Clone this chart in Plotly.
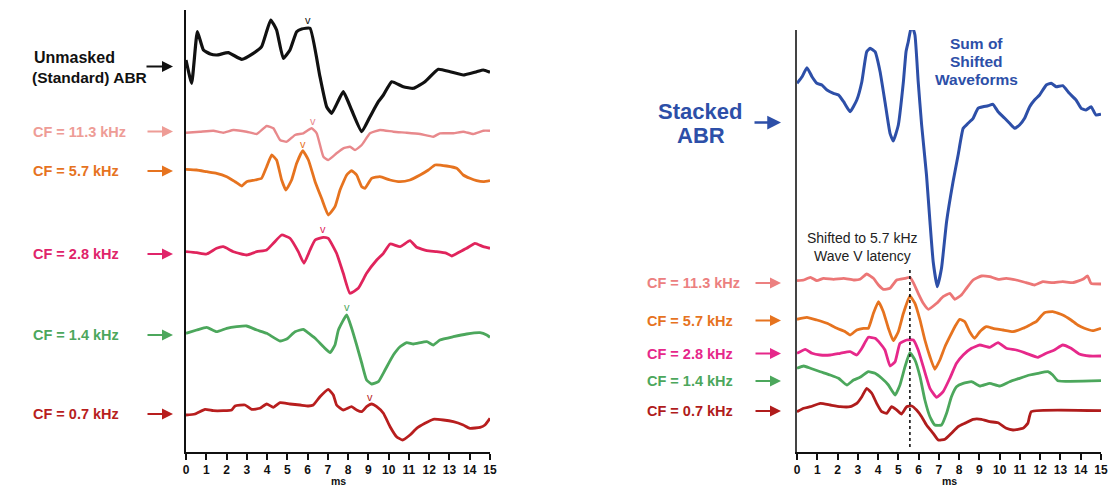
import numpy as np
import plotly.graph_objects as go

W, H = 1119, 488

# ---------------- DATA (time in ms, amplitude in arbitrary units) ----------------
# Left panel: unmasked (standard) ABR and derived-band responses
t_std = [0.0, 0.28, 0.56, 0.86, 1.2, 1.51, 2.09, 2.75, 3.32, 3.73, 4.18, 4.47, 4.80, 5.13, 5.46, 5.71, 6.12,
         6.61, 6.94, 7.19, 7.76, 8.17, 8.67, 9.08, 9.49, 9.74, 10.15, 10.72, 11.22, 11.79, 12.45, 13.03,
         13.68, 14.34, 14.67, 15.0]
a_std = [8, -15.3, 36.3, 18, 14, 13, 15.3, 8.7, 14.7, 21.3, 48, 38, 9.7, 18, 36.3, 39, 39.7,
         -8.7, -38.7, -45.3, -23.7, -42, -63.7, -48.7, -33.7, -27, -13.7, -18.7, -20.3, -13.7, -1.3, -3.7,
         -7, -3.7, -2, -4.3]

t_l113 = [0.0, 0.69, 1.35, 1.84, 2.34, 2.99, 3.49, 3.98, 4.31, 4.64, 4.97, 5.38, 5.79, 6.20, 6.45, 6.78,
          7.02, 7.43, 7.76, 8.09, 8.34, 8.67, 9.08, 9.57, 10.23, 10.89, 11.55, 12.20, 12.53, 13.19, 13.68,
          14.18, 14.67, 15.0]
a_l113 = [-0.7, 0.3, 1.3, -0.7, 2, 0.3, -2, 6, 3.7, -8, -9.7, -3, -1.3, 3.7, -1.3, -24.7,
          -28, -21.3, -16.3, -14.7, -18, -13, -1.3, 2, 0.3, -0.7, -2, -4.7, -1.3, -1.3, 0.3,
          -2, 1.3, 1.3]

t_l57 = [0, 0.53, 1.02, 1.51, 2.01, 2.42, 2.75, 2.99, 3.40, 3.73, 3.98, 4.23, 4.47, 4.72, 4.93, 5.21,
         5.46, 5.76, 6.04, 6.37, 6.69, 7.02, 7.35, 7.60, 7.93, 8.17, 8.42, 8.67, 8.83, 9.16, 9.57, 10.07,
         10.56, 11.05, 11.55, 11.96, 12.29, 12.86, 13.36, 13.68, 14.01, 14.34, 14.67, 15.0]
a_l57 = [-0.3, -1, -2.7, -4.3, -7.7, -12.7, -17, -12.7, -11, -9.3, 2.3, 14, 9, -11, -21, -11,
         5.7, 18.3, 9, -12.7, -29.3, -46, -37.7, -21, -6, -1.7, -6, -17.7, -19.3, -9.3, -7.7, -11,
         -12.7, -11, -6, -1, 4, 3, 0.7, -6, -9.3, -11.7, -12.7, -11.7]

t_l28 = [0, 0.53, 1.02, 1.51, 1.84, 2.34, 2.99, 3.49, 3.98, 4.31, 4.72, 5.13, 5.54, 5.82, 6.12, 6.37,
         6.78, 7.02, 7.43, 7.76, 8.09, 8.50, 8.91, 9.41, 9.74, 10.07, 10.56, 11.05, 11.38, 11.88, 12.37,
         12.86, 13.11, 13.52, 13.85, 14.26, 14.67, 15.0]
a_l28 = [0.3, -0.7, -2, 3.7, 5.3, 0.3, -3, 0.3, 2, 8.7, 17, 13.7, 0.3, -11.3, 2, 12,
         14.7, 13.7, -1.3, -21.3, -41.3, -36.3, -21.3, -8, -1.3, 8, 5.3, 11.3, 4.7, 1.3, 0.3,
         -1.3, -4, 0.3, 3.7, 8.7, 5.3, 3.7]

t_l14 = [0, 0.53, 1.02, 1.51, 2.01, 2.50, 2.99, 3.49, 3.98, 4.64, 4.97, 5.38, 5.79, 5.95, 6.37, 6.78,
         7.11, 7.35, 7.52, 7.93, 8.17, 8.42, 8.67, 8.91, 9.16, 9.49, 9.82, 10.23, 10.56, 10.89, 11.22,
         11.88, 12.20, 12.53, 13.19, 13.85, 14.51, 14.84, 15.0]
a_l14 = [-0.3, 3, 5.7, 1.3, 4.7, 6.3, 7, 3, -0.3, -8, -6, 1.3, 3.7, 1.3, -5.3, -13.7,
         -19.7, -12, 3, 18, 5, -12, -30, -47, -51, -48.7, -37, -22, -13.7, -9.7, -11,
         -8.7, -12, -7, -3.7, -1, 0.3, -2, -4.3]

t_l07 = [0, 0.44, 0.94, 1.35, 1.84, 2.25, 2.42, 2.91, 3.24, 3.65, 3.98, 4.31, 4.64, 5.13, 5.63, 6.04,
         6.28, 6.61, 7.02, 7.27, 7.43, 7.76, 8.17, 8.42, 8.67, 8.91, 9.16, 9.41, 9.74, 10.07, 10.39,
         10.69, 11.05, 11.38, 11.79, 12.20, 12.70, 13.19, 13.68, 14.01, 14.51, 14.75, 15.0]
a_l07 = [0, 1, 5.7, 4.3, 4.3, 5, 9, 10, 5.7, 6.7, 11, 7.7, 12.3, 11, 10, 9,
         10, 18.3, 25.7, 20, 10, 5, 8.3, 5, 3.3, 8.3, 11, 8.3, 1.7, -11.7, -21.7,
         -25, -20, -13.3, -8.3, -4.3, -5, -6.7, -10, -13.3, -12.3, -10, -3.3]

# Wave V latencies (ms) marked on the left panel
wave_v = {"std": 6.03, "11.3": 6.25, "5.7": 5.79, "2.8": 6.78, "1.4": 7.93, "0.7": 9.10}

# Right panel: stacked ABR (sum of shifted waveforms) and shifted derived-band responses
t_sum = [0, 0.25, 0.49, 0.74, 0.98, 1.23, 1.48, 1.80, 2.05, 2.30, 2.62, 2.95, 3.20, 3.44, 3.61, 3.85,
         4.10, 4.34, 4.59, 4.75, 5.0, 5.25, 5.38, 5.49, 5.66, 5.82, 5.98, 6.15, 6.39, 6.56, 6.72,
         6.92, 7.13, 7.38, 7.70, 7.95, 8.20, 8.44, 8.69, 8.93, 9.18, 9.43, 9.67, 9.92, 10.25, 10.49,
         10.74, 10.98, 11.23, 11.48, 11.72, 11.97, 12.30, 12.54, 12.79, 13.11, 13.44, 13.77, 14.02,
         14.26, 14.51, 14.75, 15.0]
a_sum = [-0.3, 6.3, 15.3, 6.3, -0.3, -2, -7, -10.3, -12, -18.7, -28.7, -17, 1.3, 31.3, 34.7, 31.3,
         11.3, -18.7, -50.3, -58, -42, 1.3, 31.3, 41.3, 58, 48, 1.3, -42, -92, -138.7, -178.7,
         -203.7, -185.3, -138.7, -98.7, -72, -45.3, -40.3, -35.3, -25.3, -23.7, -22.7, -21.3, -28.7,
         -35.3, -40.3, -45.3, -42, -35.3, -23.7, -17, -12, -2, -0.3, -3.7, -2.7, -10.3, -17, -25.3,
         -27, -23.7, -32, -31.3]

t_r113 = [0, 0.33, 0.66, 0.98, 1.31, 1.80, 2.30, 2.79, 3.11, 3.44, 3.77, 4.02, 4.26, 4.59, 4.92, 5.33,
          5.57, 5.74, 5.98, 6.23, 6.48, 6.89, 7.21, 7.54, 7.79, 8.11, 8.36, 8.69, 9.10, 9.51, 9.92,
          10.33, 10.82, 11.31, 11.72, 12.13, 12.62, 13.11, 13.61, 14.10, 14.34, 14.51, 15.0]
a_r113 = [0.3, 1, 3.7, 0.3, 2.7, 1.7, 2.7, 1, 1.7, 7, 2.7, -4, -8.3, -7.3, 1, 2.7,
          3.7, -1.7, -12.3, -22.3, -28.3, -22.3, -15.7, -12.3, -18.3, -14, -7.3, 1, 5, 4.3, 1.7,
          2.7, 1, -1.7, -4, -0.7, -1.7, -0.7, -1.7, 1.7, 5, -2.3, -3]

t_r57 = [0, 0.49, 0.98, 1.48, 1.97, 2.38, 2.62, 2.95, 3.28, 3.52, 3.77, 4.02, 4.26, 4.51, 4.75, 5.0,
         5.25, 5.57, 5.82, 6.07, 6.31, 6.56, 6.80, 7.05, 7.30, 7.54, 7.79, 8.03, 8.28, 8.52, 8.77,
         9.02, 9.34, 9.67, 10.16, 10.66, 11.15, 11.48, 11.80, 12.21, 12.62, 13.11, 13.52, 13.85,
         14.18, 14.59, 15.0]
a_r57 = [-0.3, 1.7, -1, -4.3, -9.3, -12.7, -16, -11, -9.3, -9.3, 5.7, 17.3, 7.3, -9.3, -21.7, -12.7,
         5.7, 23, 15.7, -1, -21, -37.7, -50.3, -41, -27.7, -17.7, -7.7, -0.3, -2.7, -12.7, -19.3,
         -12.7, -7.7, -9.3, -11, -12.7, -9.3, -6, -2.7, 6.3, 7.3, 4, -1, -6,
         -9.3, -11.7, -9.3]

t_r28 = [0, 0.41, 0.74, 1.15, 1.64, 2.13, 2.62, 2.95, 3.20, 3.52, 3.85, 4.10, 4.34, 4.59, 4.84, 5.08,
         5.41, 5.74, 5.98, 6.23, 6.56, 6.89, 7.21, 7.54, 7.87, 8.20, 8.61, 9.02, 9.51, 9.92, 10.33,
         10.82, 11.31, 11.89, 12.30, 12.70, 13.11, 13.52, 13.93, 14.43, 15.0]
a_r28 = [-0.3, 3.7, -0.3, -2, -2, -0.3, 1.3, -2, 4.7, 15.7, 14.7, 9.7, 3, -13, -8.7, 9.7,
         13, 13, 3, -13.7, -35.3, -44.3, -38.7, -25.3, -10.3, -2, 4.7, 8, 5.7, 10.3, 4.7,
         3, -0.3, -4.3, -0.3, 3, 8, 4.7, -1, -3, -3]

t_r14 = [0, 0.33, 0.66, 1.15, 1.64, 2.05, 2.46, 2.79, 3.11, 3.52, 3.85, 4.18, 4.51, 4.84, 5.08, 5.33,
         5.57, 5.82, 6.07, 6.31, 6.56, 6.80, 7.13, 7.38, 7.62, 7.87, 8.20, 8.61, 9.02, 9.51, 10.0,
         10.49, 10.98, 11.48, 11.89, 12.38, 12.62, 12.87, 15.0]
a_r14 = [-0.3, 2, -0.3, -3.7, -7, -10.3, -17, -12, -9.3, -3.7, -5.3, -10.3, -17, -27, -17, 1.3,
         15.3, 8, -8.7, -32, -48.7, -57, -57, -45.3, -28.7, -18.7, -15.3, -13.7, -18, -15.3, -18,
         -13.7, -10.3, -7, -5.3, -3.7, -7, -12.7, -12.7]

t_r07 = [0, 0.33, 0.66, 1.15, 1.64, 2.13, 2.62, 2.95, 3.20, 3.44, 3.69, 3.93, 4.18, 4.43, 4.67, 4.92,
         5.16, 5.41, 5.66, 5.90, 6.15, 6.39, 6.72, 6.97, 7.30, 7.62, 7.95, 8.28, 8.69, 9.10, 9.51,
         9.92, 10.33, 10.66, 11.15, 11.39, 11.56, 15.0]
a_r07 = [0.3, 3.7, 5.3, 8.7, 7, 5.3, 5.3, 8.7, 15.3, 23.7, 18.7, 8.7, 0.3, -1.3, 5.3, 2,
         -2, 5.3, 6, 2, -4.7, -13, -21.3, -28, -27.3, -21.3, -14.7, -11.3, -7.3, -7.3, -9.7,
         -10.7, -16.3, -18, -16.3, -11.3, 0.3, 1.3]

shift_latency = 5.57  # 5.7 kHz wave V latency used for shifting (ms)

x_ticks = list(range(0, 16))

# ---------------- LAYOUT / STYLE ----------------
FONT = "Liberation Sans, Arial, Helvetica, sans-serif"

def px(x):
    return x / W

def py(yp):
    return 1 - yp / H

left_series = [
    # key, t, a, offset, trace color, label, label color, label y(px), linewidth
    ("11.3", t_l113, a_l113, 320, "#e8898c", "CF = 11.3 kHz", "#ee9c96", 131.5, 2.4),
    ("5.7", t_l57, a_l57, 283, "#e6731f", "CF = 5.7 kHz", "#e6731f", 171, 2.8),
    ("2.8", t_l28, a_l28, 200, "#e0245c", "CF = 2.8 kHz", "#e0246a", 254, 2.8),
    ("1.4", t_l14, a_l14, 119, "#4ca75c", "CF = 1.4 kHz", "#4ca75c", 335, 2.8),
    ("0.7", t_l07, a_l07, 37, "#b81e1e", "CF = 0.7 kHz", "#b81e1e", 414, 2.8),
]
right_series = [
    (t_r113, a_r113, 171, "#ec7676", "CF = 11.3 kHz", "#ec8080", 283),
    (t_r57, a_r57, 133, "#e6731f", "CF = 5.7 kHz", "#e6731f", 320.5),
    (t_r28, a_r28, 99, "#e6288a", "CF = 2.8 kHz", "#e6288a", 353.5),
    (t_r14, a_r14, 84, "#4ca75c", "CF = 1.4 kHz", "#4ca75c", 381),
    (t_r07, a_r07, 40, "#b01c1c", "CF = 0.7 kHz", "#b01c1c", 411),
]
STD_OFF = 384
SUM_OFF = 369
BLUE = "#2d4fa8"

fig = go.Figure()
line_kw = dict(shape="spline", smoothing=0.4)

# left traces
fig.add_trace(go.Scatter(x=t_std, y=np.array(a_std) + STD_OFF, mode="lines",
                         line=dict(color="#111111", width=3.2, **line_kw),
                         xaxis="x", yaxis="y", hoverinfo="skip", showlegend=False))
for key, t, a, off, col, lab, lcol, ly, lw in left_series:
    fig.add_trace(go.Scatter(x=t, y=np.array(a) + off, mode="lines",
                             line=dict(color=col, width=lw, **line_kw),
                             xaxis="x", yaxis="y", hoverinfo="skip", showlegend=False))

# right traces
fig.add_trace(go.Scatter(x=t_sum, y=np.array(a_sum) + SUM_OFF, mode="lines",
                         line=dict(color=BLUE, width=3.0, **line_kw),
                         xaxis="x2", yaxis="y2", hoverinfo="skip", showlegend=False))
for t, a, off, col, lab, lcol, ly in right_series:
    fig.add_trace(go.Scatter(x=t, y=np.array(a) + off, mode="lines",
                             line=dict(color=col, width=2.8, **line_kw),
                             xaxis="x2", yaxis="y2", hoverinfo="skip", showlegend=False))

ann = []

def text(x, y, s, size, color, bold=True, xanchor="left"):
    ann.append(dict(x=px(x), y=py(y), xref="paper", yref="paper", text=s, showarrow=False,
                    xanchor=xanchor, yanchor="middle",
                    font=dict(family=FONT, size=size, color=color,
                              weight="bold" if bold else "normal")))

def arrow(x_tail, x_tip, y, color, width=2):
    ann.append(dict(x=px(x_tip), y=py(y), xref="paper", yref="paper", text="",
                    showarrow=True, ax=-(x_tip - x_tail), ay=0, arrowhead=2,
                    arrowsize=1.1, arrowwidth=width, arrowcolor=color))

# left labels
text(32, 58, "Unmasked", 16, "#111111")
text(30, 77, "(Standard) ABR", 15.5, "#111111")
arrow(145, 173, 66.5, "#111111")
for key, t, a, off, col, lab, lcol, ly, lw in left_series:
    text(31, ly, lab, 14.5, lcol)
    arrow(146, 173, ly, lcol)

# wave V markers (left panel)
vm = [("std", t_std, a_std, STD_OFF, "#111111")] + [(k, t, a, off, col) for k, t, a, off, col, *_ in left_series]
for key, t, a, off, col in vm:
    lat = wave_v[key]
    yv = float(np.interp(lat, t, a)) + off + 8
    ann.append(dict(x=lat, y=yv, xref="x", yref="y", text="v", showarrow=False,
                    xanchor="center", yanchor="middle",
                    font=dict(family=FONT, size=11, color=col)))

# right labels
text(700, 111.5, "Stacked", 22, BLUE, xanchor="center")
text(701, 135, "ABR", 22, BLUE, xanchor="center")
arrow(753, 781, 122.5, BLUE, 2.5)
text(976, 43.5, "Sum of", 15.5, BLUE, xanchor="center")
text(976, 62, "Shifted", 15.5, BLUE, xanchor="center")
text(976, 80, "Waveforms", 15.5, BLUE, xanchor="center")
text(862, 238, "Shifted to 5.7 kHz", 14, "#222222", bold=False, xanchor="center")
text(862, 255.5, "Wave V latency", 14, "#222222", bold=False, xanchor="center")
for t, a, off, col, lab, lcol, ly in right_series:
    text(645, ly, lab, 14.5, lcol)
    arrow(754, 781, ly, lcol)

# axis titles
text(338, 480.5, "ms", 10.5, "#111111", xanchor="center")
text(949, 480.5, "ms", 10.5, "#111111", xanchor="center")

fig.add_shape(type="line", xref="x2", yref="y2", x0=shift_latency, x1=shift_latency, y0=5, y1=184,
              line=dict(color="#111111", width=1.6, dash="dot"))

xcommon = dict(range=[0, 15], tickmode="array", tickvals=x_ticks, ticktext=[str(v) for v in x_ticks],
               showline=True, linecolor="#111111", linewidth=2, ticks="outside", ticklen=6,
               tickwidth=2, tickcolor="#111111", showgrid=False, zeroline=False, automargin=False,
               tickfont=dict(family=FONT, size=12, color="#111111", weight="bold"), fixedrange=True)
ycommon = dict(showticklabels=False, ticks="", showgrid=False, zeroline=False, automargin=False,
               fixedrange=True, showline=True)
fig.update_layout(
    template="none",
    width=W, height=H, margin=dict(l=0, r=0, t=0, b=0, pad=0, autoexpand=False),
    paper_bgcolor="white", plot_bgcolor="white",
    annotations=ann,
    xaxis=dict(domain=[px(186), px(490)], anchor="y", **xcommon),
    yaxis=dict(domain=[36 / H, 478 / H], range=[0, 442], anchor="x",
               linecolor="#111111", linewidth=2.5, **ycommon),
    xaxis2=dict(domain=[px(797), px(1101)], anchor="y2", **xcommon),
    yaxis2=dict(domain=[36 / H, 458 / H], range=[0, 422], anchor="x2",
                linecolor="#444444", linewidth=1.6, **ycommon),
)

fig.write_html("out.html", config={"staticPlot": True},
               post_script="document.body.style.margin='0';document.body.style.overflow='hidden';")
